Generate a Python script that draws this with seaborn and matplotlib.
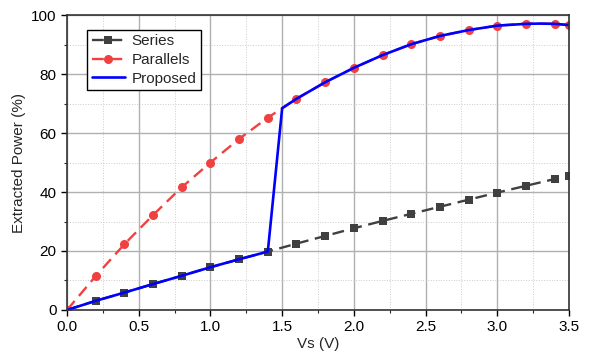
import numpy as np
import pandas as pd
import matplotlib
matplotlib.use("Agg")
import matplotlib.pyplot as plt
import seaborn as sns
from matplotlib.ticker import MultipleLocator

# values
vs = [0.0, 0.2, 0.4, 0.6, 0.8, 1.0, 1.2, 1.4, 1.6, 1.8, 2.0, 2.2, 2.4, 2.6, 2.8, 3.0, 3.2, 3.4, 3.5]
series = [0.0, 3.1, 5.9, 8.8, 11.6, 14.5, 17.2, 19.8, 22.5, 25.1, 27.7, 30.2, 32.6, 35.0, 37.4, 39.8, 42.1, 44.4, 45.4]
parallels = [0.0, 11.5, 22.3, 32.2, 41.6, 50.0, 58.0, 65.2, 71.6, 77.2, 82.1, 86.4, 90.1, 92.9, 94.9, 96.4, 97.1, 97.0, 96.6]

vs_prop = [0.0, 0.2, 0.4, 0.6, 0.8, 1.0, 1.2, 1.4, 1.5, 1.6, 1.8, 2.0, 2.2, 2.4, 2.6, 2.8, 3.0, 3.2, 3.3, 3.4, 3.5]
proposed = [0.0, 3.1, 5.9, 8.8, 11.6, 14.5, 17.2, 19.8, 68.4, 71.6, 77.2, 82.1, 86.4, 90.1, 92.9, 94.9, 96.4, 97.0, 97.1, 97.0, 96.6]

sns.set_style("ticks")
plt.rcParams['font.family'] = ['Liberation Sans', 'DejaVu Sans']

fig = plt.figure(figsize=(5.9, 3.6), dpi=100)
ax = fig.add_axes([0.1136, 0.1389, 0.8508, 0.8194])

sns.lineplot(x=vs, y=series, ax=ax, color='#404040', linestyle=(0, (5, 2.8)),
             marker='s', markersize=5.5, markeredgewidth=0, linewidth=1.7, label='Series')
sns.lineplot(x=vs, y=parallels, ax=ax, color='#f04040', linestyle=(0, (5, 2.8)),
             marker='o', markersize=6.5, markeredgewidth=0, linewidth=1.7, label='Parallels')
sns.lineplot(x=vs_prop, y=proposed, ax=ax, color='#0000ff', linewidth=1.9, label='Proposed')

ax.set_xlim(0, 3.5)
ax.set_ylim(0, 100)
ax.xaxis.set_major_locator(MultipleLocator(0.5))
ax.xaxis.set_minor_locator(MultipleLocator(0.25))
ax.yaxis.set_major_locator(MultipleLocator(20))
ax.yaxis.set_minor_locator(MultipleLocator(10))
ax.set_xticks(np.arange(0, 3.51, 0.5))
ax.set_xticklabels([f"{v:.1f}" for v in np.arange(0, 3.51, 0.5)])

ax.grid(which='major', color='#b0b0b0', linewidth=1.0, linestyle='-')
ax.grid(which='minor', color='#cccccc', linewidth=0.7, linestyle=':')
ax.set_axisbelow(True)

for s in ax.spines.values():
    s.set_color('#333333')
    s.set_linewidth(1.2)
ax.tick_params(which='major', direction='out', length=4, width=1, labelsize=11, colors='black')
ax.tick_params(which='minor', direction='out', length=2.5, width=0.8)

ax.set_xlabel('Vs (V)', fontsize=11, labelpad=2)
ax.set_ylabel('Extracted Power (%)', fontsize=11, labelpad=4)

leg = ax.legend(loc='upper left', bbox_to_anchor=(0.04, 0.95), fontsize=11, frameon=True,
                fancybox=False, edgecolor='black', framealpha=1, borderpad=0.3,
                labelspacing=0.3, handlelength=2.2, handletextpad=0.4, borderaxespad=0)
leg.get_frame().set_linewidth(1.0)

fig.savefig('out.png', dpi=100)
